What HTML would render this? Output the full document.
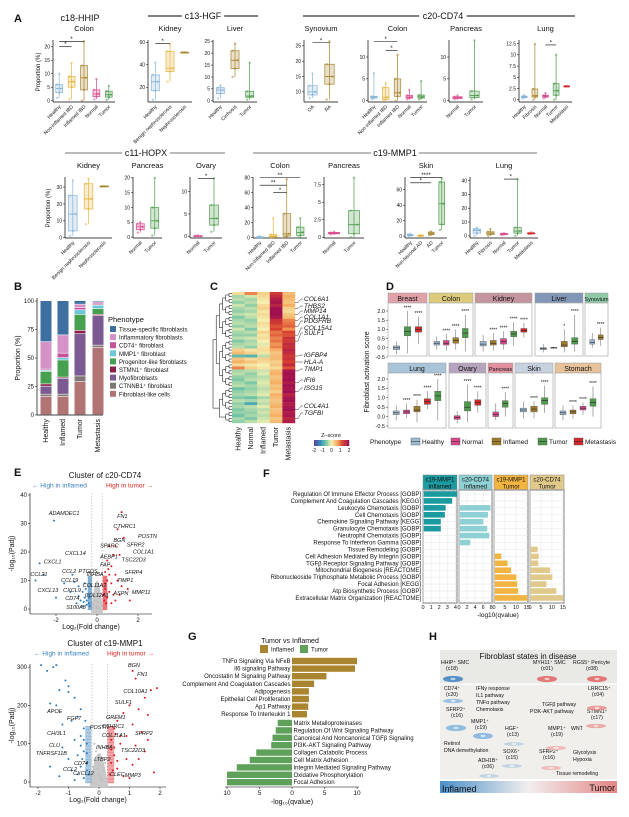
<!DOCTYPE html>
<html><head><meta charset="utf-8">
<style>
html,body{margin:0;padding:0;background:#fff;width:629px;height:817px;overflow:hidden}
svg{display:block;font-family:"Liberation Sans",Arial,sans-serif}
</style></head>
<body>
<svg id="fig" width="629" height="817" viewBox="0 0 629 817"></svg>
<script>
// ---------- Panel A data ----------
const hhipColonCats=["Healthy","Non-inflamed IBD","Inflamed IBD","Normal","Tumor"];
const hhipColonStats=[[1,3,4.5,6,10],[0.5,5,7,9,14],[0,4,8.5,13,22],[0.5,1.5,2.5,4,8],[0.3,1.3,2.2,3.5,5.5]];
const hgfKidneyCats=["Healthy","Benign nephrosclerosis","Nephrosclerosis"];
const hgfKidneyStats=[[9,17,25,31,42],[25,34,37,52,58],[51,51,51,51,51]];
const hgfLiverCats=["Healthy","Cirrhosis","Tumor"];
const hgfLiverStats=[[1,3,4.5,5.5,6.5],[10,13.5,17,21,24],[0.5,1.5,2,4,16]];
const cd74SynCats=["OA","RA"];
const cd74SynStats=[[8,9,10,12,16],[7.5,12.5,15,19,26.5]];
const cd74ColonCats=["Healthy","Non-inflamed IBD","Inflamed IBD","Normal","Tumor"];
const cd74ColonStats=[[0.3,0.6,0.8,1,6.3],[0,0.3,0.8,3,4],[0,1,1.8,5,10.5],[0.3,0.6,0.8,1.2,2.5],[0.3,0.6,0.9,1.3,4.5]];
const cd74PancCats=["Normal","Tumor"];
const cd74PancStats=[[0.3,0.5,0.7,0.9,1.2],[0.3,0.7,1.2,2.2,13.8]];
const cd74LungCats=["Healthy","Fibrosis","Normal","Tumor","Metastasis"];
const cd74LungStats=[[0.3,0.5,0.6,0.8,1],[0,0.6,0.9,2.4,12.4],[0.3,0.6,0.8,1,1.5],[0,1,2,3.6,10],[3,3,3,3,3]];
const hopxKidneyCats=["Healthy","Benign nephrosclerosis","Nephrosclerosis"];
const hopxKidneyStats=[[1,4,14,25,34],[8,17,23,32,35],[30.5,30.5,30.5,30.5,30.5]];
const hopxPancCats=["Normal","Tumor"];
const hopxPancStats=[[1.5,2.5,3.5,4.5,5],[0.5,3,5.5,10,20]];
const hopxOvaryCats=["Normal","Tumor"];
const hopxOvaryStats=[[0,0,0,0.1,0.2],[1,2.5,4,7,13]];
const mmp1ColonCats=["Healthy","Non-inflamed IBD","Inflamed IBD","Tumor"];
const mmp1ColonStats=[[0,0,0.5,1,2],[0,1,2,4,26],[0,2,5,32,78],[0,3,7,14,26]];
const mmp1PancCats=["Normal","Tumor"];
const mmp1PancStats=[[0.4,0.5,0.6,0.7,0.8],[0,0.5,1.8,3.8,8.5]];
const mmp1SkinCats=["Healthy","Non-lesional AD","AD","Tumor"];
const mmp1SkinStats=[[0,0.5,1,2,3],[0,0,0.5,1,1.5],[1,2,3,5,6],[8,15,42,70,75]];
const mmp1LungCats=["Healthy","Fibrosis","Normal","Tumor","Metastasis"];
const mmp1LungStats=[[0,2,4,5,6],[0,1,2,3,5],[0.5,1,1.5,1.7,2],[0,2,3.5,6,41],[1.5,1.5,2,2,2.5]];

// ---------- Panel B data ----------
const bCats=["Healthy","Inflamed","Tumor","Metastasis"];
const bTypes=["Fibroblast-like cells","CTNNB1\u207A fibroblast","Myofibroblasts","STMN1\u207A fibroblast","Progenitor-like fibroblasts","MMP1\u207A fibroblast","CD74\u207A fibroblast","Inflammatory fibroblasts","Tissue-specific fibroblasts"];
const bFL=[16,16,29,59];
const bCT=[2,2,5,2];
const bMyo=[7,14,37,26];
const bSTMN=[2,1,3,1];
const bProg=[11,15,14,5];
const bMMP=[1,2,4,3];
const bCD74=[1,4,2,1];
const bInfl=[24,16,3,2];
const bTis=[36,30,3,1];

// ---------- Panel C data ----------
const cCols=["Healthy","Normal","Inflamed","Tumor","Metastasis"];
const cRows=[
[0.2,0.9,0.3,1.4,0.5],[-0.4,-0.2,0.2,1.6,0.6],[-0.3,-0.4,0.1,1.8,0.5],[-0.5,-0.3,0.0,1.9,0.4],
[-0.2,-0.5,0.2,1.7,0.6],[-0.4,-0.3,0.3,2.0,0.3],[-0.5,-0.4,0.1,2.0,0.2],[-0.3,-0.2,0.2,2.0,0.4],
[-0.6,-0.3,0.1,1.9,0.5],[-0.4,-0.5,0.0,1.5,0.9],[-0.3,-0.4,0.2,1.4,1.0],[-0.5,-0.3,0.1,1.2,1.1],
[-0.2,-0.6,0.0,1.3,0.8],[-0.4,-0.3,0.3,1.0,1.3],[-0.5,-0.5,0.1,1.1,1.2],[-0.3,-0.2,0.2,0.9,1.5],
[-0.6,-0.4,0.0,1.0,1.4],[-0.4,-0.3,-0.1,0.8,1.6],[-0.3,-0.5,0.1,0.9,1.5],[0.3,0.1,0.2,0.6,1.7],
[0.5,0.3,0.1,0.4,1.6],[-0.8,-0.9,-0.3,0.5,1.4],[0.4,0.2,0.3,0.5,1.5],[0.6,0.4,0.2,0.3,1.3],
[0.2,0.1,0.0,0.4,1.6],[0.9,0.3,0.1,0.2,1.2],[-0.4,-0.3,-0.2,0.5,1.9],[-0.3,-0.5,-0.1,0.6,2.0],
[-0.5,-0.4,-0.3,0.4,1.9],[-0.6,-0.3,-0.2,0.5,2.0],[-0.4,-0.6,-0.1,0.6,1.8],[-0.3,-0.4,-0.2,0.4,2.0],
[-0.7,-0.5,-0.3,0.5,1.9],[-0.5,-0.4,-0.2,0.3,2.0],[-0.4,-0.3,-0.1,0.6,1.7],[-0.6,-0.7,-0.4,0.5,1.9],
[-0.3,-0.4,-0.2,0.4,2.0],[-0.5,-1.0,-0.3,0.5,1.8],[-0.4,-0.3,-0.1,0.6,1.9],[-0.6,-0.4,-0.3,0.4,2.0],
[-0.5,-0.5,-0.2,0.5,1.8],[-0.7,-0.4,-0.3,0.6,1.9],[-0.4,-0.6,-0.2,0.4,1.7],[-0.5,-0.3,-0.1,0.5,1.8]];
const cGenes=["COL6A1","THBS2","MMP14","COL1A1","PDGFRB","COL15A1","SULF1","IGFBP4","HLA-A","TIMP1","IFI6","ISG15","COL4A1","TGFBI"];
const cGeneRows=[3,5,7,9,11,14,16,21,23,26,30,33,39,42];

// ---------- Panel D data ----------
const dNames=["Breast","Colon","Kidney","Liver","Synovium","Lung","Ovary","Pancreas","Skin","Stomach"];
const dGroups=[["Healthy","Tumor","Metastasis"],["Healthy","Normal","Inflamed","Tumor"],["Healthy","Inflamed","Normal","Tumor","Metastasis"],["Healthy","Healthy","Inflamed","Tumor"],["Healthy","Inflamed"],["Healthy","Normal","Inflamed","Metastasis","Tumor"],["Normal","Tumor","Metastasis"],["Normal","Tumor"],["Healthy","Inflamed","Tumor"],["Healthy","Inflamed","Normal","Tumor"]];
const dStats=[
[[-0.35,-0.1,0,0.1,0.35],[-0.3,0.65,0.9,1.15,2.0],[0.2,0.85,1.0,1.15,1.7]],
[[-0.1,0.15,0.25,0.35,0.6],[-0.15,0.15,0.25,0.4,0.75],[-0.1,0.25,0.4,0.55,1.0],[-0.2,0.55,0.8,1.05,1.8]],
[[-0.2,0.1,0.2,0.35,0.7],[-0.15,0.15,0.25,0.4,0.8],[-0.1,0.2,0.35,0.5,0.9],[0.1,0.6,0.75,0.9,1.4],[0.55,0.85,0.95,1.05,1.35]],
[[-0.25,-0.1,-0.05,0.0,0.2],[-0.05,-0.02,0,0.02,0.05],[-0.25,0.05,0.15,0.35,1.0],[-0.2,0.2,0.35,0.55,1.8]],
[[0.0,0.2,0.3,0.45,0.8],[0.1,0.45,0.55,0.7,1.1]],
[[-0.2,0.1,0.2,0.3,0.6],[-0.1,0.15,0.25,0.35,0.7],[-0.3,0.25,0.35,0.55,0.9],[0.4,0.65,0.8,0.95,1.35],[-0.2,0.85,1.1,1.35,2.0]],
[[-0.35,-0.15,-0.05,0.05,0.3],[-0.3,0.3,0.5,0.8,1.7],[0.2,0.6,0.75,0.9,1.35]],
[[-0.2,0.0,0.1,0.25,0.7],[0.0,0.5,0.7,0.85,1.3]],
[[-0.1,0.25,0.35,0.45,0.8],[-0.1,0.25,0.4,0.55,0.8],[0.2,0.65,0.85,1.0,1.65]],
[[-0.2,0.1,0.2,0.3,0.6],[-0.1,0.15,0.25,0.35,0.6],[0.1,0.35,0.45,0.55,0.75],[0.0,0.55,0.75,0.95,1.6]]];
const dStars=[["","****","****"],["","****","****","****"],["","****","****","****","****"],["","","*","****","****"],["","****"],["","****","****","****","****"],["","****","****"],["","****"],["","****","****"],["","****","****","****"]];

// ---------- Panel E data ----------
const e1Blue=[[-2.1,31],[-2.8,16],[-2.6,12],[-3.0,10],[-1.6,9],[-1.2,12],[-0.9,8],[-0.7,6],[-0.6,4],[-0.5,3],[-0.4,2],[-0.8,3],[-1.0,2],[-0.45,5],[-0.55,7],[-0.35,1],[-0.65,2.5],[-1.3,6],[-0.5,1.5],[-0.4,4],[-0.7,1],[-0.9,4.5],[-2.0,4],[-1.1,9.5],[-0.6,9]];
const e1Red=[[1.2,34],[1.0,28],[1.3,25],[0.6,22],[0.9,22],[0.8,19],[1.1,19],[0.5,17],[0.7,15],[0.4,13],[0.6,12],[0.9,12],[0.5,10],[0.7,9],[1.2,8],[0.4,7],[0.6,6],[0.8,5],[0.5,4],[0.35,3],[0.45,2],[0.7,2],[0.9,3],[1.1,5],[1.6,3],[0.4,9],[0.55,14],[0.3,5],[1.0,10],[1.5,7]];
const e1Gray=[[-0.2,0.5],[0,1],[0.2,2],[-0.1,3],[0.1,0.3],[0.25,1],[-0.25,2],[0,0.2],[0.15,4],[-0.15,1.5],[0.05,2.5],[-0.05,0.8]];
const e1Labels=[["ADAMDEC1",-2.35,33],["FN1",0.98,32],["CTHRC1",0.8,28.5],["POSTN",2.0,25],["BGN",0.8,23.5],["SFRP2",1.45,22],["SPARC",0.15,21.5],["COL1A1",1.75,19.5],["AEBP1",0.15,17.8],["TSC22D3",1.2,16.7],["FAP",0.15,15],["SFRP4",1.35,12.2],["TIMP1",0.98,9.5],["MMP11",1.7,5.3],["ASPN",0.8,4.9],["CXCL14",-1.56,19],["CXCL1",-2.6,16],["CCL2",-1.7,12.6],["PTGDS",-0.9,12.6],["CCL21",-3.25,11.6],["INHBA",-0.5,11.5],["CCL19",-1.75,9.5],["COL11A1",-0.7,7.7],["CXCL13",-2.9,6],["CXCL9",-1.65,5.9],["CD74",-1.55,3.2],["COL12A1",-0.6,4.2],["S100A8",-1.5,0]];
const e2Blue=[[-1.9,305],[-1.5,300],[-1.4,305],[-1.7,290],[-1.1,265],[-1.0,250],[-1.3,240],[-1.0,235],[-0.8,220],[-1.4,200],[-1.6,205],[-0.6,190],[-0.7,170],[-0.9,160],[-1.2,150],[-0.5,140],[-0.6,120],[-0.8,110],[-0.4,100],[-0.5,80],[-0.7,70],[-1.0,60],[-0.4,50],[-0.6,40],[-0.9,30],[-1.3,15],[-0.35,20],[-0.5,10],[-0.8,5],[-1.6,40],[-1.2,90],[-0.45,160],[-0.55,60],[-0.4,30],[-0.7,20],[-0.5,110],[-0.4,75],[-0.6,95]];
const e2Red=[[1.1,290],[1.2,270],[1.7,240],[1.9,245],[1.5,220],[1.0,200],[1.3,190],[0.8,180],[1.6,175],[0.6,160],[1.1,150],[0.5,140],[1.4,130],[0.9,120],[0.4,110],[0.7,100],[1.2,95],[1.5,80],[0.5,70],[0.9,60],[0.4,50],[1.1,45],[0.6,35],[0.35,20],[0.8,15],[1.8,25],[0.5,90],[0.7,120],[1.3,60],[0.45,30],[1.0,10],[1.6,110],[0.4,85],[0.55,125],[0.6,55]];
const e2Gray=[[-0.2,40],[0,20],[0.2,50],[-0.1,80],[0.1,5],[-0.25,15],[0.25,90],[0,60],[0.15,30],[-0.15,100],[0.05,10],[-0.05,35]];
const e2Labels=[["BGN",0.95,300],["FN1",1.25,277],["COL10A1",0.8,232],["SULF1",0.52,204],["GREM1",0.23,164],["CTHRC1",0.1,141],["POSTN",-0.3,138],["SFRP2",1.18,123],["COL11A1",0.1,118],["INHBA",-0.1,86],["TSC22D3",0.72,78],["LTBP2",-0.16,55],["CLEC",0.36,16],["MMP3",0.85,13],["APOE",-1.7,180],["FGF7",-1.05,162],["CHI3L1",-1.7,123],["CLU",-1.64,91],["TNFRSF11B",-2.07,70],["CD74",-0.82,44],["CXCL12",-0.85,18],["CCL2",-1.18,29]];

// ---------- Panel F data ----------
const fTerms=["Regulation Of Immune Effector Process [GOBP]","Complement And Coagulation Cascades [KEGG]","Leukocyte Chemotaxis [GOBP]","Cell Chemotaxis [GOBP]","Chemokine Signaling Pathway [KEGG]","Granulocyte Chemotaxis [GOBP]","Neutrophil Chemotaxis [GOBP]","Response To Interferon Gamma [GOBP]","Tissue Remodeling [GOBP]","Cell Adhesion Mediated By Integrin [GOBP]","TGF\u03B2 Receptor Signaling Pathway [GOBP]","Mitochondrial Biogenesis [REACTOME]","Ribonucleoside Triphosphate Metabolic Process [GOBP]","Focal Adhesion [KEGG]","Atp Biosynthetic Process [GOBP]","Extracellular Matrix Organization [REACTOME]"];
const fC19Inf=[4.2,3.6,2.8,2.7,2.2,2.2,0,0,0,0,0,0,0,0,0,0];
const fC20Inf=[0,0,7.8,7.2,6.0,7.0,7.5,2.8,0,0,0,0,0,0,0,0];
const fC19Tum=[0,0,0,0,0,0,0,0,0,3.3,6.2,7.8,10.2,10.6,11.0,15.2];
const fC20Tum=[0,0,0,0,0,0,0,0,3.5,4.0,3.8,9.2,10.2,7.5,12.0,15.2];

// ---------- Panel G data ----------
const gInfTerms=["TNF\u03B1 Signaling Via NF\u03BAB","Il6 signaling Pathway","Oncostatin M Signaling Pathway","Complement And Coagulation Cascades","Adipogenesis","Epithelial Cell Proliferation","Ap1 Pathway","Response To Interleukin 1"];
const gInfVals=[10,9.7,5.3,3.4,2.6,2.6,2.5,2.3];
const gTumTerms=["Matrix Metalloproteinases","Regulation Of Wnt Signaling Pathway","Canonical And Noncanonical TGF\u03B2 Signaling","PI3K-AKT Signaling Pathway","Collagen Catabolic Process","Cell Matrix Adhesion","Integrin Mediated Signaling Pathway","Oxidative Phosphorylation","Focal Adhesion"];
const gTumVals=[2.2,2.5,3.0,3.2,5.5,6.5,8.5,10,10];

// ================= drawing =================
const svg=document.getElementById('fig');
const NS='http://www.w3.org/2000/svg';
function mk(tag,a,p){const e=document.createElementNS(NS,tag);for(const k in a)e.setAttribute(k,a[k]);(p||svg).appendChild(e);return e;}
function T(x,y,s,size,anchor,p,extra){const t=mk('text',Object.assign({x:x,y:y,'font-size':size,'text-anchor':anchor||'start',fill:'#111'},extra||{}),p);t.textContent=s;return t;}
function grp(name){const g=mk('g',{});return g;}
const COL={"Healthy":"#86b3d8","Non-inflamed IBD":"#e6b53e","Inflamed IBD":"#a8852e","Normal":"#d9488d","Tumor":"#4e9c4e","Benign nephrosclerosis":"#e6b53e","Nephrosclerosis":"#a8852e","Cirrhosis":"#a8852e","OA":"#86b3d8","RA":"#a8852e","Fibrosis":"#a8852e","Metastasis":"#d62728","Non-lesional AD":"#e6b53e","AD":"#a8852e"};

// panel letters
[["A",14,22],["B",14,290],["C",210,290],["D",386,290],["E",14,476],["F",263,477],["G",188,640],["H",429,640]].forEach(function(l){
  const t=T(l[1],l[2],l[0],11,'start',svg,{'font-weight':'bold'});
  
  
});

function boxPanel(name,x0,x1,yT,yB,ymin,ymax,ticks,cats,stats,sigs,sub){
  const g=grp(name);
  const ys=v=>yB-(v-ymin)/(ymax-ymin)*(yB-yT);
  mk('line',{x1:x0,y1:yT,x2:x0,y2:yB,stroke:'#000','stroke-width':0.7},g);
  mk('line',{x1:x0,y1:yB,x2:x1,y2:yB,stroke:'#000','stroke-width':0.7},g);
  ticks.forEach(function(t){const y=ys(t);mk('line',{x1:x0-2,y1:y,x2:x0,y2:y,stroke:'#000','stroke-width':0.5},g);T(x0-3,y+1.8,String(t),5,'end',g);});
  T((x0+x1)/2,yT-9,sub,7.5,'middle',g);
  const n=cats.length,bw=(x1-x0)/n;
  cats.forEach(function(c,i){
    const cx=x0+bw*(i+0.5),w=Math.min(bw*0.55,12),s=stats[i],col=COL[c];
    mk('line',{x1:cx,y1:ys(s[0]),x2:cx,y2:ys(s[4]),stroke:col,'stroke-width':0.7},g);
    const r=mk('rect',{x:cx-w/2,y:ys(s[3]),width:w,height:Math.max(0.6,ys(s[1])-ys(s[3])),fill:col,'fill-opacity':0.25,stroke:col,'stroke-width':0.7},g);
    
    
    mk('line',{x1:cx-w/2,y1:ys(s[2]),x2:cx+w/2,y2:ys(s[2]),stroke:col,'stroke-width':0.9},g);
    s.forEach(function(v,k){const d=mk('circle',{cx:cx+((k%3)-1)*w*0.3,cy:ys(v),r:1.2,fill:col,'fill-opacity':0.55},g);
      
      });
    const lx=cx+2,ly=yB+5;
    T(lx,ly,c,5,'end',g,{transform:'rotate(-45 '+lx+' '+ly+')'});
  });
  sigs.forEach(function(sg){const xa=x0+bw*(sg[0]+0.5),xb=x0+bw*(sg[1]+0.5),y=ys(sg[2]);
    mk('line',{x1:xa,y1:y,x2:xb,y2:y,stroke:'#000','stroke-width':0.6},g);
    T((xa+xb)/2,y-0.5,sg[3],6,'middle',g);});
}
// row 1
boxPanel('hhip-colon-plot',53,115,40,102,-0.5,22.5,[0,5,10,15,20],hhipColonCats,hhipColonStats,[[0,1,20,'*'],[0,2,22,'*']],'Colon');
boxPanel('hgf-kidney-plot',148,192,40,102,7,62,[20,40,60],hgfKidneyCats,hgfKidneyStats,[[0,1,59,'*']],'Kidney');
boxPanel('hgf-liver-plot',213,257,40,102,-0.5,25.5,[0,5,10,15,20,25],hgfLiverCats,hgfLiverStats,[],'Liver');
boxPanel('cd74-synovium-plot',304,338,40,102,6.7,26.9,[10,15,20,25],cd74SynCats,cd74SynStats,[[0,1,26,'*']],'Synovium');
boxPanel('cd74-colon-plot',368,427,40,102,-0.3,13.9,[0,5,10],cd74ColonCats,cd74ColonStats,[[0,2,13.5,'*'],[1,2,11.5,'*']],'Colon');
boxPanel('cd74-pancreas-plot',449,483,40,102,-0.3,13.9,[0,5,10],cd74PancCats,cd74PancStats,[],'Pancreas');
boxPanel('cd74-lung-plot',519,572,40,102,-0.5,13.3,[0,2.5,5,7.5,10,12.5],cd74LungCats,cd74LungStats,[[2,3,12.2,'*']],'Lung');
// row 2
boxPanel('hopx-kidney-plot',65,112,177,238,-0.2,36,[0,10,20,30],hopxKidneyCats,hopxKidneyStats,[],'Kidney');
boxPanel('hopx-pancreas-plot',133,162,177,238,-0.3,20.3,[0,5,10,15,20],hopxPancCats,hopxPancStats,[],'Pancreas');
boxPanel('hopx-ovary-plot',190,222,177,238,-0.4,13.3,[0,5,10],hopxOvaryCats,hopxOvaryStats,[[0,1,13,'*']],'Ovary');
boxPanel('mmp1-colon-plot',253,307,177,238,-0.5,81,[0,20,40,60,80],mmp1ColonCats,mmp1ColonStats,[[0,3,80,'**'],[0,2,70,'**'],[1,2,60,'*']],'Colon');
boxPanel('mmp1-pancreas-plot',324,364,177,238,-0.1,8.6,[0,2.5,5,7.5],mmp1PancCats,mmp1PancStats,[],'Pancreas');
boxPanel('mmp1-skin-plot',405,447,177,238,-2.5,76.6,[0,20,40,60],mmp1SkinCats,mmp1SkinStats,[[0,3,76,'****'],[0,2,69,'*']],'Skin');
boxPanel('mmp1-lung-plot',470,538,177,238,-1.5,42.5,[0,10,20,30,40],mmp1LungCats,mmp1LungStats,[[2,3,41,'*']],'Lung');

(function(){
  const g=grp('panel-a-headers');
  T(80,21,'c18-HHIP',9,'middle',g);
  [[148,258,203,'c13-HGF',19,'#000'],[303,575,443,'c20-CD74',19,'#000'],[65,225,146,'c11-HOPX',156,'#777'],[253,537,395,'c19-MMP1',156,'#777']].forEach(function(h){
    mk('line',{x1:h[0],y1:h[4]-3,x2:h[1],y2:h[4]-3,stroke:h[5],'stroke-width':1.1},g);
    const w=h[3].length*5.2+6;
    mk('rect',{x:h[2]-w/2,y:h[4]-10,width:w,height:11,fill:'#fff'},g);
    T(h[2],h[4],h[3],9,'middle',g);
  });
  T(40,72,'Proportion (%)',6,'middle',g,{transform:'rotate(-90 40 72)'});
  T(50,208,'Proportion (%)',6,'middle',g,{transform:'rotate(-90 50 208)'});
})();

// ---------- B ----------
(function(){
  const g=grp('panel-b-stacked-bars');
  const x0=37,yB=415,yT=301;
  const ys=v=>yB-v/100*(yB-yT);
  mk('line',{x1:x0,y1:yT-3,x2:x0,y2:yB,stroke:'#000','stroke-width':0.7},g);
  mk('line',{x1:x0,y1:yB,x2:103,y2:yB,stroke:'#000','stroke-width':0.7},g);
  [0,25,50,75,100].forEach(function(t){mk('line',{x1:x0-2,y1:ys(t),x2:x0,y2:ys(t),stroke:'#000','stroke-width':0.5},g);T(x0-3,ys(t)+2,String(t),6,'end',g);});
  T(20,358,'Proportion (%)',7,'middle',g,{transform:'rotate(-90 20 358)'});
  const series=[bFL,bCT,bMyo,bSTMN,bProg,bMMP,bCD74,bInfl,bTis];
  const cols=["#b07474","#7e7775","#7b5a92","#8c1f47","#47a04f","#6cc7d8","#c5559a","#d592c7","#3e6fa1"];
  const cx=[46,63,80,98];
  bCats.forEach(function(c,i){
    let acc=0;
    series.forEach(function(s,k){
      const r=mk('rect',{x:cx[i]-5.5,y:ys(acc+s[i]),width:11,height:Math.max(0,ys(acc)-ys(acc+s[i])-0.6),fill:cols[k]},g);
      
      
      acc+=s[i];
    });
    T(cx[i]+2,yB+4,c,7,'end',g,{transform:'rotate(-90 '+(cx[i]+2)+' '+(yB+4)+')'});
  });
  const lg=grp('panel-b-legend');
  T(108,322,'Phenotype',7.5,'start',lg);
  const order=[8,7,6,5,4,3,2,1,0];
  order.forEach(function(k,j){const y=326+j*8.1;
    const s=mk('rect',{x:110,y:y,width:6,height:6,fill:cols[k]},lg);
    
    
    T(119,y+5.5,bTypes[k],6,'start',lg);});
})();

// ---------- C ----------
(function(){
  const g=grp('panel-c-heatmap');
  const x0=232,x1=295,yT=292,yB=423;
  const cw=(x1-x0)/5,rh=(yB-yT)/cRows.length;
  const stops=[[-2,[91,63,153]],[-1.3,[47,143,192]],[-0.7,[108,195,165]],[0,[245,240,176]],[0.7,[245,165,90]],[1.3,[215,64,47]],[2,[160,16,80]]];
  function cmap(v){v=Math.max(-2,Math.min(2,v));for(let i=0;i<stops.length-1;i++){const a=stops[i],b=stops[i+1];if(v<=b[0]){const t=(v-a[0])/(b[0]-a[0]);return 'rgb('+a[1].map((c,k)=>Math.round(c+(b[1][k]-c)*t)).join(',')+')';}}return 'rgb(160,16,80)';}
  cRows.forEach(function(row,r){row.forEach(function(v,c){
    const cell=mk('rect',{x:x0+c*cw,y:yT+r*rh,width:cw+0.2,height:rh+0.2,fill:cmap(v)},g);
    
    
  });});
  // dendrogram
  const n=cRows.length;
  let nodes=[];for(let i=0;i<n;i++)nodes.push({y:yT+(i+0.5)*rh,x:x0});
  let lvl=0;
  while(nodes.length>1){const nx=[];const xx=x0-3-lvl*3.2;
    for(let i=0;i<nodes.length;i+=2){
      if(i+1<nodes.length){const a=nodes[i],b=nodes[i+1];
        mk('path',{d:'M'+a.x+' '+a.y+'H'+xx+'V'+b.y+'H'+b.x,fill:'none',stroke:'#000','stroke-width':0.5},g);
        nx.push({x:xx,y:(a.y+b.y)/2});}else nx.push(nodes[i]);}
    nodes=nx;lvl++;}
  cCols.forEach(function(c,i){const cx=x0+(i+0.5)*cw+2;
    T(cx,427,c,7,'end',g,{transform:'rotate(-90 '+cx+' 427)'});});
  cGenes.forEach(function(gn,i){const ry=yT+(cGeneRows[i]+0.5)*rh;const ty=301+i*(i<7?5.5:1)+(i>=7?0:0);
    const yy=[301,308,313,319,323,330,335,357,364,371,382,390,408,415][i];
    mk('path',{d:'M'+x1+' '+ry+'H'+(x1+3)+'L'+(x1+6)+' '+(yy-2)+'H'+(x1+8),fill:'none',stroke:'#000','stroke-width':0.4},g);
    T(x1+9,yy,gn,6.5,'start',g,{'font-style':'italic'});});
  // colorbar
  const lg=grp('panel-c-colorbar');
  T(331,437,'Z\u2013score',5.5,'middle',lg);
  for(let i=0;i<30;i++){const v=-2+i*4/29;mk('rect',{x:314+i*1.17,y:440,width:1.3,height:6,fill:cmap(v)},lg);}
  [-2,-1,0,1,2].forEach(function(v){T(314+(v+2)/4*35,452,String(v),5,'middle',lg);});
})();

// ---------- D ----------
(function(){
  const PC={"Healthy":"#9fbad0","Normal":"#d9468a","Inflamed":"#a07c28","Tumor":"#4f9a4d","Metastasis":"#d22a2a"};
  const stripCol=["#e0a1ab","#dccb7d","#c4959f","#8296b6","#8fc9a8","#a9c4d8","#b6a3bd","#e0909e","#c7d1e0","#e8c29b"];
  const xs=[[388,427],[429,473],[475,532],[535,583],[585,608],[388,446],[449,486],[488,513],[515,553],[555,601]];
  const g=grp('panel-d-boxplots');
  dNames.forEach(function(nm,p){
    const row=p<5?0:1;
    const sT=row?363:293, pT=row?373:303, pB=row?428:356;
    const y2=row?379:311, ym=row?426:357;
    const ys=v=>y2+(2-v)/2.5*(ym-y2);
    const x0=xs[p][0],x1=xs[p][1];
    const st=mk('rect',{x:x0,y:sT,width:x1-x0,height:10,fill:stripCol[p],stroke:'#999','stroke-width':0.5},g);
    
    
    T((x0+x1)/2,sT+8,nm,nm.length>7?5.5:7,'middle',g);
    mk('rect',{x:x0,y:pT,width:x1-x0,height:pB-pT,fill:'#fff',stroke:'#aaa','stroke-width':0.7},g);
    if(p===0||p===5){[2,1.5,1,0.5,0,-0.5].forEach(function(t){const y=ys(t);mk('line',{x1:x0-2,y1:y,x2:x0,y2:y,stroke:'#000','stroke-width':0.4},g);T(x0-3,y+1.8,t.toFixed(1),5.5,'end',g);});}
    const grpList=dGroups[p],n=grpList.length,bw=(x1-x0-6)/n;
    grpList.forEach(function(gr,i){
      const s=dStats[p][i],cx=x0+3+bw*(i+0.5),w=Math.min(bw*0.6,7);
      const col=(p===3&&i===1)?'#555':PC[gr];
      mk('line',{x1:cx,y1:ys(s[0]),x2:cx,y2:ys(s[4]),stroke:'#777','stroke-width':0.6},g);
      const b=mk('rect',{x:cx-w/2,y:ys(s[3]),width:w,height:Math.max(0.8,ys(s[1])-ys(s[3])),fill:col,stroke:'#555','stroke-width':0.4},g);
      
      
      mk('line',{x1:cx-w/2,y1:ys(s[2]),x2:cx+w/2,y2:ys(s[2]),stroke:'#222','stroke-width':0.6},g);
      if(dStars[p][i])T(cx,ys(s[4])-1.5,dStars[p][i],5,'middle',g);
    });
  });
  T(369,372,'Fibroblast activation score',7,'middle',g,{transform:'rotate(-90 369 372)'});
  const lg=grp('panel-d-legend');
  T(370,444,'Phenotype',6.5,'start',lg);
  [["Healthy",411],["Normal",451],["Inflamed",492],["Tumor",538],["Metastasis",574]].forEach(function(l){
    const s=mk('rect',{x:l[1],y:438,width:9,height:7,fill:PC[l[0]],stroke:'#555','stroke-width':0.4},lg);
    
    
    mk('line',{x1:l[1],y1:441.5,x2:l[1]+9,y2:441.5,stroke:'#222','stroke-width':0.5},lg);
    T(l[1]+11,444,l[0],6.5,'start',lg);});
})();

// ---------- E ----------
function volcano(name,blue,red,gray,labels,cfg){
  const g=grp(name);
  const xs=f=>cfg.x0+f*cfg.kx, ys=p=>cfg.y0-p*cfg.ky;
  T(cfg.tx,cfg.ty,cfg.title,8,'middle',g);
  T(cfg.ax1,cfg.ty+9.5,'\u2190 High in inflamed',6.5,'start',g,{fill:'#3a7fc1'});
  T(cfg.ax2,cfg.ty+9.5,'High in tumor \u2192',6.5,'start',g,{fill:'#e02020'});
  mk('line',{x1:cfg.L,y1:cfg.T,x2:cfg.L,y2:cfg.B,stroke:'#000','stroke-width':0.6},g);
  mk('line',{x1:cfg.L,y1:cfg.B,x2:cfg.R,y2:cfg.B,stroke:'#000','stroke-width':0.6},g);
  cfg.yt.forEach(function(t){mk('line',{x1:cfg.L-2,y1:ys(t),x2:cfg.L,y2:ys(t),stroke:'#000','stroke-width':0.5},g);T(cfg.L-3,ys(t)+2,String(t),6,'end',g);});
  cfg.xt.forEach(function(t){mk('line',{x1:xs(t),y1:cfg.B,x2:xs(t),y2:cfg.B+2,stroke:'#000','stroke-width':0.5},g);T(xs(t),cfg.B+8,String(t),6,'middle',g);});
  cfg.dash.forEach(function(d){mk('line',{x1:xs(d),y1:cfg.T,x2:xs(d),y2:cfg.B,stroke:'#999','stroke-width':0.5,'stroke-dasharray':'1.5,1.5'},g);});
  mk('path',{d:'M'+xs(-0.3)+' '+cfg.B+'Q'+xs(0)+' '+(cfg.B-(cfg.B-cfg.T)*0.55)+' '+xs(0.3)+' '+cfg.B+'Z',fill:'#c8c8c8'},g);
  gray.forEach(function(p){const c=mk('circle',{cx:xs(p[0]),cy:ys(p[1]),r:1,fill:'#bdbdbd'},g);
    
    });
  blue.forEach(function(p){const c=mk('circle',{cx:xs(p[0]),cy:ys(p[1]),r:1,fill:'#2c77b5'},g);
    
    });
  red.forEach(function(p){const c=mk('circle',{cx:xs(p[0]),cy:ys(p[1]),r:1,fill:'#e0161e'},g);
    
    });
  // dense bands near threshold
  for(let i=0;i<40;i++){mk('rect',{x:xs(-0.45),y:ys(cfg.band*(i/40)),width:xs(-0.25)-xs(-0.45),height:1.2,fill:'#2c77b5','fill-opacity':0.5},g);
    mk('rect',{x:xs(0.28),y:ys(cfg.band*(i/40)),width:xs(0.5)-xs(0.28),height:1.2,fill:'#e0161e','fill-opacity':0.5},g);}
  labels.forEach(function(l){T(xs(l[1]),ys(l[2]),l[0],5.5,'start',g,{'font-style':'italic'});});
  T(cfg.yl,(cfg.T+cfg.B)/2,'-log\u2081\u2080(Padj)',7,'middle',g,{transform:'rotate(-90 '+cfg.yl+' '+((cfg.T+cfg.B)/2)+')'});
  T((cfg.L+cfg.R)/2,cfg.B+15,'Log\u2082(Fold change)',7,'middle',g);
}
volcano('volcano-c20-cd74',e1Blue,e1Red,e1Gray,e1Labels,{x0:97,kx:20.5,y0:609,ky:2.85,L:30,R:152,T:493,B:614,tx:105,ty:478,ax1:32,ax2:106,title:'Cluster of c20-CD74',yt:[0,10,20,30,40],xt:[-2,0,2],dash:[-0.25,0.25],band:12,yl:14});
volcano('volcano-c19-mmp1',e2Blue,e2Red,e2Gray,e2Labels,{x0:99,kx:30.5,y0:782,ky:0.383,L:30,R:166,T:664,B:787,tx:105,ty:646,ax1:34,ax2:107,title:'Cluster of c19-MMP1',yt:[0,100,200,300],xt:[-2,-1,0,1,2],dash:[-0.23,0.27],band:150,yl:14});

// ---------- F ----------
(function(){
  const g=grp('panel-f-enrichment');
  const panels=[[423,457,4.2,fC19Inf,'#1b9aa0','c19-MMP1','Inflamed',[0,1,2,3,4]],[459,492,8.2,fC20Inf,'#8fd0d4','c20-CD74','Inflamed',[0,2,4,6,8]],[494,528,15.5,fC19Tum,'#f2b441','c19-MMP1','Tumor',[0,5,10,15]],[530,564,15.5,fC20Tum,'#e0c98a','c20-CD74','Tumor',[0,5,10,15]]];
  const yT=490,rs=6.93,y0=494;
  panels.forEach(function(p){
    const st=mk('rect',{x:p[0],y:475,width:p[1]-p[0],height:15,fill:p[4],stroke:'#888','stroke-width':0.5},g);
    
    
    T((p[0]+p[1])/2,481.5,p[5],6,'middle',g);T((p[0]+p[1])/2,488.5,p[6],6,'middle',g);
    mk('rect',{x:p[0],y:yT,width:p[1]-p[0],height:113,fill:'#fff',stroke:'#999','stroke-width':1.3},g);
    const xs=v=>p[0]+v/p[2]*(p[1]-p[0]);
    p[7].forEach(function(t){mk('line',{x1:xs(t),y1:yT,x2:xs(t),y2:603,stroke:'#e6e6e6','stroke-width':0.5},g);T(xs(t),609,String(t),5.5,'middle',g);});
    for(let r=0;r<16;r++)mk('line',{x1:p[0],y1:y0+r*rs,x2:p[1],y2:y0+r*rs,stroke:'#e6e6e6','stroke-width':0.5},g);
    p[3].forEach(function(v,r){if(v>0){const b=mk('rect',{x:p[0]+0.7,y:y0+r*rs-2.8,width:xs(Math.min(v,p[2]))-p[0]-0.7,height:5.6,fill:p[4]},g);
      
      }});
  });
  fTerms.forEach(function(t,r){T(421,y0+r*rs+2,t,6,'end',g);});
  T(498,617,'-log10(qvalue)',6.5,'middle',g);
})();

// ---------- G ----------
(function(){
  const g=grp('panel-g-diverging-bars');
  const x0=292,k=6.5;
  T(290,643,'Tumor vs Inflamed',7,'middle',g);
  mk('rect',{x:260,y:645,width:8,height:8,fill:'#a8852e'},g);T(271,651.5,'Inflamed',6,'start',g);
  mk('rect',{x:300,y:645,width:8,height:8,fill:'#5fa05a'},g);T(311,651.5,'Tumor',6,'start',g);
  gInfVals.forEach(function(v,i){const y=661+i*7.6;
    const b=mk('rect',{x:x0,y:y-3.2,width:v*k,height:6.4,fill:'#a8852e'},g);
    
    
    T(x0-1.5,y+2,gInfTerms[i],6,'end',g);});
  gTumVals.forEach(function(v,i){const y=723+i*7.4;
    const b=mk('rect',{x:x0-v*k,y:y-3.2,width:v*k,height:6.4,fill:'#5fa05a'},g);
    
    
    T(x0+1.5,y+2,gTumTerms[i],6,'start',g);});
  mk('line',{x1:x0-10*k-2,y1:787,x2:x0+10*k+2,y2:787,stroke:'#000','stroke-width':0.6},g);
  [[-10,'10'],[-5,'5'],[0,'0'],[5,'5'],[10,'10']].forEach(function(t){mk('line',{x1:x0+t[0]*k,y1:787,x2:x0+t[0]*k,y2:789,stroke:'#000','stroke-width':0.5},g);T(x0+t[0]*k,795,t[1],6.5,'middle',g);});
  T(x0,804,'-log\u2081\u2080(qvalue)',7,'middle',g);
})();

// ---------- H ----------
(function(){
  const g=grp('panel-h-schematic');
  mk('rect',{x:440,y:650,width:177,height:34,fill:'#e9e9e5'},g);
  mk('rect',{x:440,y:684,width:177,height:95,fill:'#f0efec'},g);
  mk('line',{x1:440,y1:684,x2:617,y2:684,stroke:'#fff','stroke-width':1.2},g);
  T(528,659,'Fibroblast states in disease',8,'middle',g);
  const defs=mk('defs',{},svg);
  const lgd=mk('linearGradient',{id:'hgrad',x1:0,x2:1,y1:0,y2:0},defs);
  mk('stop',{offset:'0','stop-color':'#4a8fc8'},lgd);mk('stop',{offset:'0.5','stop-color':'#f2eeee'},lgd);mk('stop',{offset:'1','stop-color':'#e48585'},lgd);
  const gb=mk('polygon',{points:'440,781 617,781 617,793 440,793',fill:'url(#hgrad)'},g);
  
  
  T(442,792,'Inflamed',9,'start',g);T(615,791,'Tumor',9,'end',g);
  const texts=[["HHIP\u207A SMC",441,664],["(c18)",446,670],["MYH11\u207A SMC",533,664],["(c01)",541,670],["RGS5\u207A Pericyte",573,664],["(c08)",586,670],
  ["CD74\u207A",444,690],["(c20)",446,696],["IFN\u03B3 response",476,690],["IL1 pathway",476,697],["TNF\u03B1 pathway",476,704],["Chemotaxis",476,711],
  ["LRRC15\u207A",588,690],["(c04)",592,696],["TGF\u03B2 pathway",542,706],["PI3K-AKT pathway",530,713],["SFRP2\u207A",446,711],["(c16)",451,717],
  ["STMN1\u207A",587,713],["(c17)",591,719],["MMP1\u207A",471,723],["(c19)",475,729],["HGF\u207A",505,730],["(c13)",507,736],["MMP1\u207A",548,730],["(c19)",551,736],["WNT",571,730],
  ["Retinol",444,745],["DNA demethylation",444,752],["SOX6\u207A",503,753],["(c15)",506,759],["SFRP2\u207A",539,753],["(c16)",543,759],["Glycolysis",573,754],["Hypoxia",573,761],
  ["ADH1B\u207A",478,762],["(c06)",482,768],["Tissue remodeling",556,775]];
  texts.forEach(function(t){T(t[1],t[2],t[0],5.2,'start',g);});
  const cells=[[453,679,'#3d7fc1',1],[547,679,'#e06565',1],[597,679,'#e06565',1],[453,701,'#8ab7df',0.8],[597,708,'#ea8c8c',0.9],[456,728,'#7fb1dd',1],[596,726,'#ea9a9a',0.8],[483,736,'#7fb1dd',1],[514,744,'#b9cde0',0.7],[556,748,'#f0b0b0',0.8],[512,766,'#b9cde0',0.7],[551,768,'#f0b0b0',0.8],[489,776,'#b9cde0',0.7]];
  cells.forEach(function(c){const e=mk('ellipse',{cx:c[0],cy:c[1],rx:10,ry:2.6*c[3]+ (c[3]===1?0.5:0),fill:c[2],'fill-opacity':0.85},g);
    
    
    mk('ellipse',{cx:c[0],cy:c[1],rx:2.5,ry:1.2,fill:'#fff','fill-opacity':0.6},g);});
})();
</script>
</body></html>
